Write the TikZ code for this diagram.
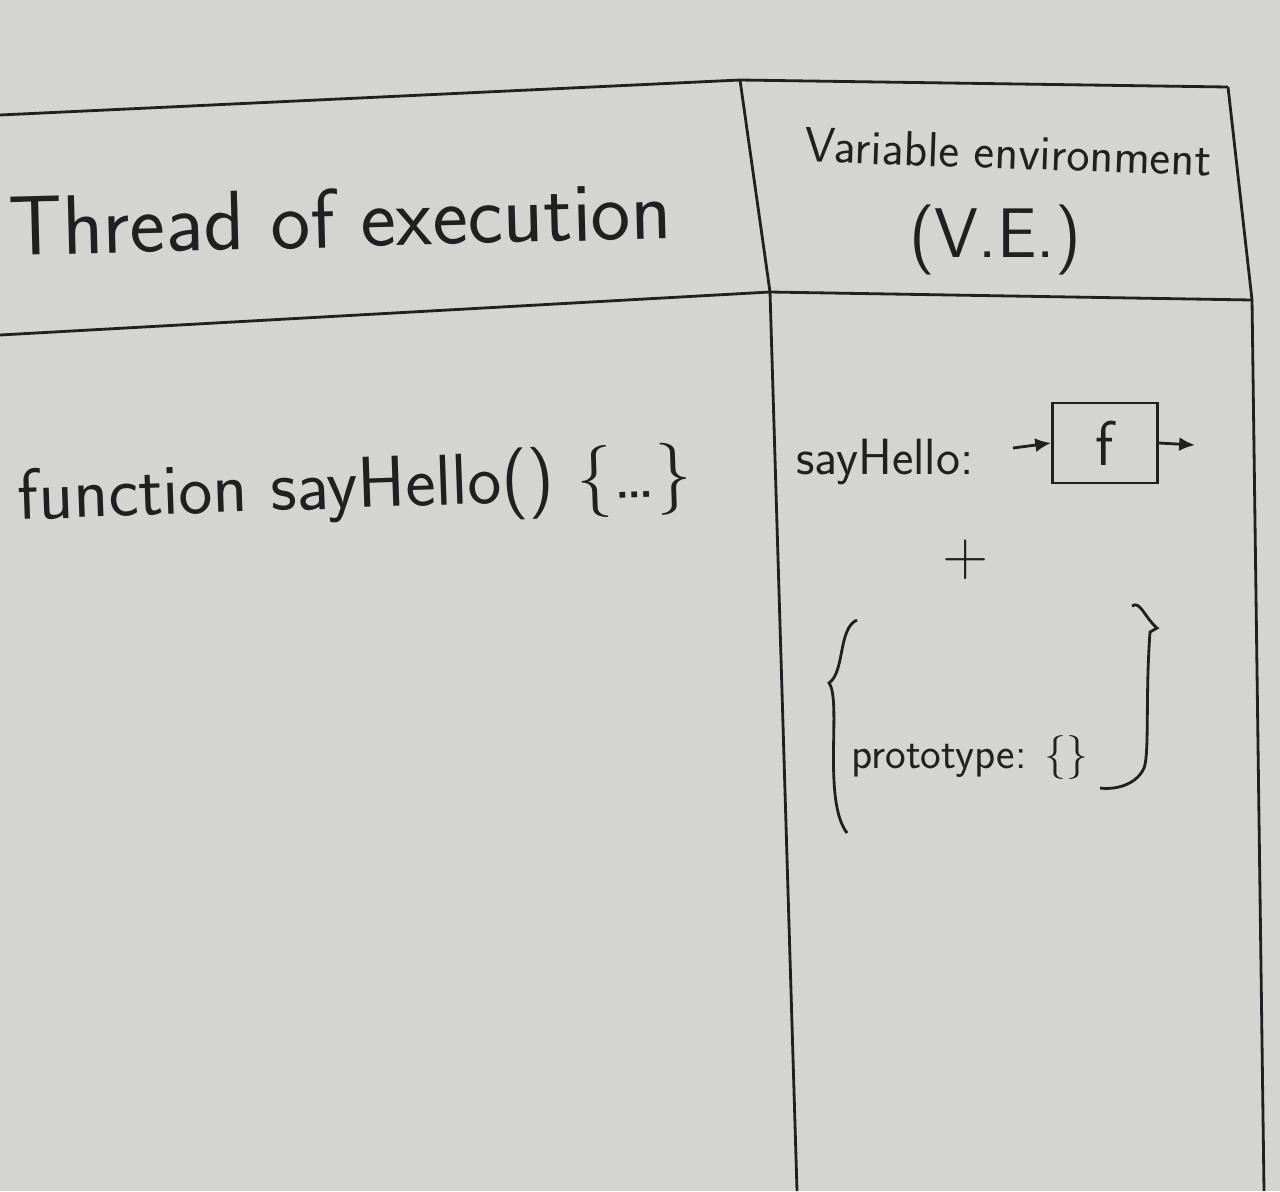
\documentclass[tikz,border=0pt]{standalone}
\usepackage{fontspec}
\usetikzlibrary{positioning, arrows.meta}
\definecolor{board}{RGB}{212,212,209}
\definecolor{ink}{RGB}{32,32,32}
\begin{document}
\begin{tikzpicture}[x=0.02cm, y=-0.02cm, >={Latex[length=9pt, width=8pt]}, line width=1.6pt, draw=ink,
  hand/.style={inner sep=1pt, text=ink, font=\sffamily\fontsize{#1}{#1}\selectfont},
  hand/.default=24]

% board
\fill[board] (0,0) rectangle (1280,1191);
\useasboundingbox (0,0) rectangle (1280,1191);

% table rules
\draw[ink] (0,115) -- (740,80) -- (1228,87);
\draw[ink] (0,335) -- (770,292) -- (1252,300);
\draw[ink] (740,80) -- (770,292) -- (797,1191);
\draw[ink] (1228,87) -- (1252,300) -- (1264,1191);

% headings
\node[hand=48, rotate=1.5] (thread) at (340,218) {Thread of execution};
\node[hand=28, rotate=-2] (ve) at (1008,152) {Variable environment};
\node[hand=40] (vea) at (995,240) {(V.E.)};

% left column
\node[hand=41, rotate=2] (decl) at (355,490) {function sayHello() \{\dots\}};

% right column
\node[hand=29] (key) at (885,462) {sayHello:};
\node[hand=36, draw=ink, minimum width=2.1cm, minimum height=1.6cm] (fbox) at (1105,443) {f};
\coordinate (in) at (1013,448);
\coordinate (out) at (1195,445);
\draw[->, ink] (in) -- (fbox.west);
\draw[->, ink] (fbox.east) -- (out);

\node[hand=36] (plus) at (966,560) {+};
\node[hand=25] (proto) at (970,757) {prototype: \{\}};

% big braces round the object
\draw[ink] (857,620) .. controls (838,628) and (845,672) .. (829,683)
  .. controls (842,700) and (822,800) .. (847,833);
\draw[ink] (1132,606) .. controls (1140,600) and (1145,618) .. (1157,628)
  -- (1150,632) .. controls (1145,700) and (1150,760) .. (1143,770)
  .. controls (1135,785) and (1115,790) .. (1100,788);

\end{tikzpicture}
\end{document}
